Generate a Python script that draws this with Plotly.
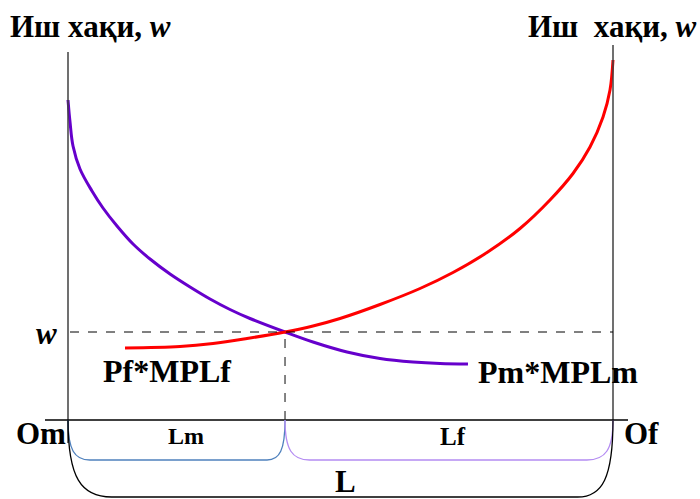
import plotly.graph_objects as go

# ---- data (labour L: 0..100 from Om to Of; wage w) ----
pm_L = [0, 0.37, 0.92, 2.20, 4.40, 6.42, 8.99, 11.93, 15.05, 18.72, 22.39, 26.06, 29.72, 33.39,
        39.82, 44.95, 51.19, 57.25, 63.30, 68.26, 73.39]
pm_w = [80, 74.5, 68.5, 62.75, 57.25, 53, 48.5, 44, 40.25, 36.5, 33.25, 30.25, 27.625, 25.375,
        22, 19.5, 17, 15.375, 14.5, 14.125, 14]

pf_L = [10.46, 20.55, 26.61, 32.84, 39.82, 44.95, 49.91, 57.25, 64.59, 70.64, 76.88, 82.94,
        88.44, 92.66, 95.78, 98.17, 99.45, 100]
pf_w = [18, 18.375, 19.125, 20.375, 22, 23.5, 25.375, 28.875, 32.875, 36.875, 41.875, 47.875,
        55, 61.625, 68.25, 75.75, 82.5, 90]

L_total = 100
L_m = 39.82
w_eq = 22

# pixel mapping helpers: L -> px: 68 + 5.45 L ; w -> py: 420 - 4 w
SX, X0 = 5.45, 68
SY, Y0 = 4.0, 420
W, H = 700, 499
xr = [(0 - X0) / SX, (W - X0) / SX]
yr = [(Y0 - H) / SY, Y0 / SY]

def Lp(px):
    return (px - X0) / SX

def Wp(py):
    return (Y0 - py) / SY

fig = go.Figure()

fig.add_trace(go.Scatter(x=pm_L, y=pm_w, mode="lines",
                         line=dict(color="#6600CC", width=3, shape="spline", smoothing=1.0),
                         hoverinfo="skip", showlegend=False))
fig.add_trace(go.Scatter(x=pf_L, y=pf_w, mode="lines",
                         line=dict(color="#FF0000", width=3, shape="spline", smoothing=1.0),
                         hoverinfo="skip", showlegend=False))

shapes = []
axc = "#404040"
shapes.append(dict(type="line", xref="x", yref="y", x0=0, x1=0, y0=Wp(443), y1=Wp(52), line=dict(color=axc, width=1.5)))
shapes.append(dict(type="line", xref="x", yref="y", x0=L_total, x1=L_total, y0=0, y1=Wp(45), line=dict(color=axc, width=1.5)))
shapes.append(dict(type="line", xref="x", yref="y", x0=Lp(45), x1=Lp(628), y0=0, y1=0, line=dict(color="black", width=1.5)))
shapes.append(dict(type="line", xref="x", yref="y", x0=Lp(70), x1=L_total, y0=w_eq, y1=w_eq, line=dict(color="black", width=1, dash="dash")))
shapes.append(dict(type="line", xref="x", yref="y", x0=L_m, x1=L_m, y0=0, y1=w_eq, line=dict(color="#333333", width=1.2, dash="dash")))

def bracket(a, b, depth, r_l, r_r, color, width):
    d = depth
    p = (f"M {a},0 C {a},{d*0.75} {a + r_l*0.3},{d} {a + r_l},{d} "
         f"L {b - r_r},{d} C {b - r_r*0.3},{d} {b},{d*0.75} {b},0")
    return dict(type="path", xref="x", yref="y", path=p, line=dict(color=color, width=width))

shapes.append(bracket(0, L_m, Wp(460), 4.0, 3.3, "#4F81BD", 1.3))
shapes.append(bracket(L_m, L_total, Wp(460), 4.5, 4.8, "#B48CF2", 1.3))
shapes.append(bracket(0, L_total, Wp(497), 8.0, 6.5, "black", 1.3))

fig.update_layout(shapes=shapes)

FONT = "Liberation Serif, Times New Roman, serif"

def label(text, px, py, size, xanchor="center"):
    fig.add_annotation(x=px / W, y=1 - py / H, xref="paper", yref="paper", text=text, showarrow=False,
                       xanchor=xanchor, yanchor="middle",
                       font=dict(family=FONT, size=size, color="black"))

label("<b>Иш хақи, <i>w</i></b>", 8, 26, 31, "left")
label("<b>Иш\u00a0 хақи, <i>w</i></b>", 526, 26, 31, "left")
label("<b><i>w</i></b>", 46, 333, 31)
label("<b>Pf*MPLf</b>", 101, 371, 32, "left")
label("<b>Pm*MPLm</b>", 476, 372, 32, "left")
label("<b>Om</b>", 14, 433, 31, "left")
label("<b>Of</b>", 622, 433, 31, "left")
label("<b>Lm</b>", 186, 436, 24)
label("<b>Lf</b>", 453, 436, 25)
label("<b>L</b>", 345, 481, 31)

fig.update_layout(
    width=W, height=H,
    margin=dict(l=0, r=0, t=0, b=0),
    paper_bgcolor="white", plot_bgcolor="white",
    xaxis=dict(range=xr, visible=False, fixedrange=True),
    yaxis=dict(range=yr, visible=False, fixedrange=True),
    showlegend=False,
)

fig.write_html("out.html", config={"displayModeBar": False},
               post_script="document.body.style.margin='0';document.body.style.overflow='hidden';")
